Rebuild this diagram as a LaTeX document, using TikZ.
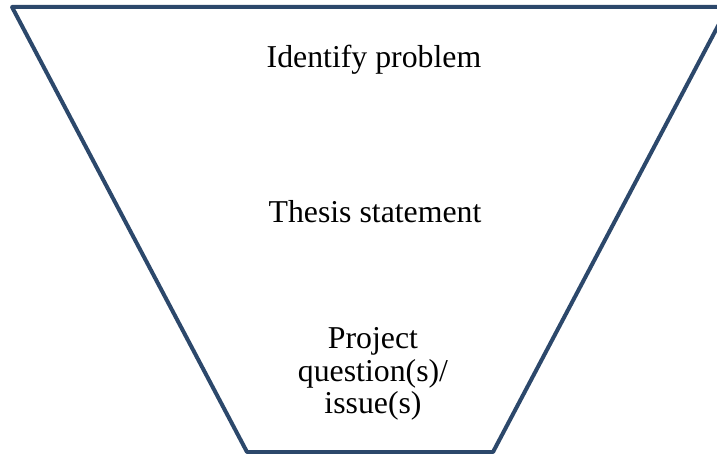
\documentclass[tikz,border=0pt]{standalone}
\usepackage{fontspec}
\setmainfont{Liberation Serif}
\definecolor{funnelblue}{RGB}{44,72,107}

\begin{document}
\begin{tikzpicture}[line cap=round,line join=round,x=0.5pt,y=-0.5pt,
	label/.style={inner sep=0pt,align=center,font=\fontsize{15.9}{16.3}\selectfont}]
	\useasboundingbox (0,0) rectangle (717,454);
	\clip (0,0) rectangle (717,454);
	% funnel outline
	\coordinate (tl) at (12,7);
	\coordinate (tr) at (728,7);
	\coordinate (br) at (493,452);
	\coordinate (bl) at (247,452);
	\draw [color=funnelblue,line width=2pt] (tl) -- (tr) -- (br) -- (bl) -- cycle;
	% stages
	\node [label,anchor=base] (problem) at (374,68) {Identify problem};
	\node [label,anchor=base] (thesis) at (375,223) {Thesis statement};
	\node [label,anchor=north] (question) at (373,327) {Project\\question(s)/\\issue(s)};
\end{tikzpicture}
\end{document}
